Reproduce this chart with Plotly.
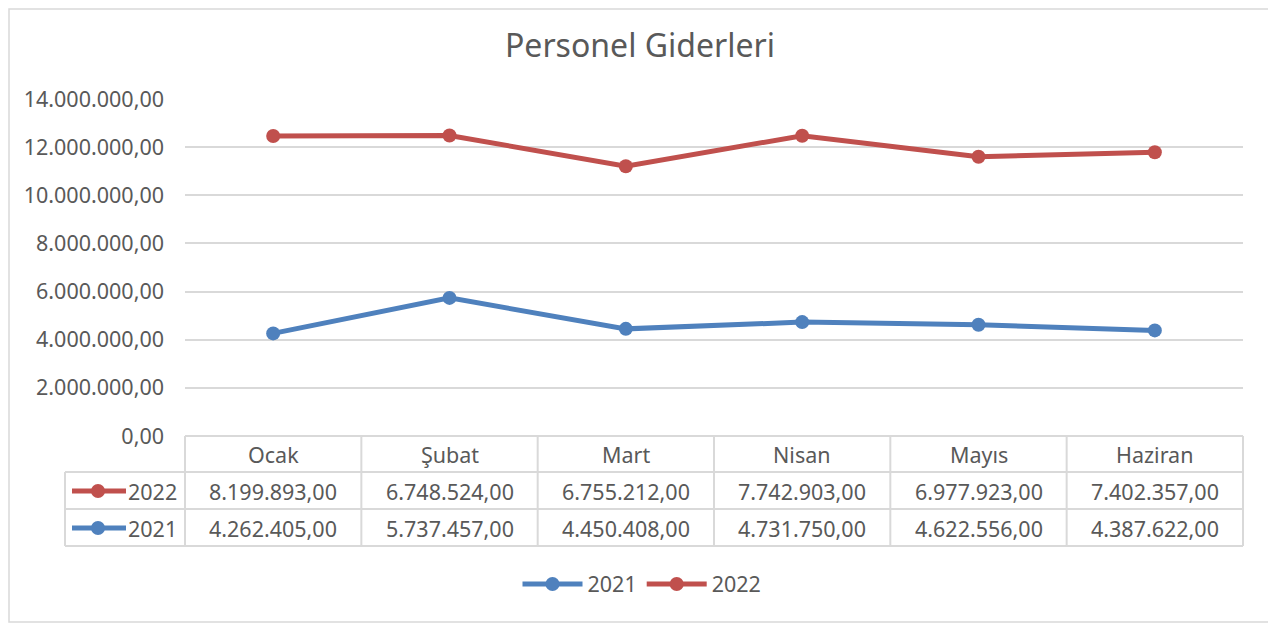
import plotly.graph_objects as go

months = ["Ocak", "Şubat", "Mart", "Nisan", "Mayıs", "Haziran"]
y2021 = [4262405, 5737457, 4450408, 4731750, 4622556, 4387622]
y2022 = [8199893, 6748524, 6755212, 7742903, 6977923, 7402357]
y_ticks = [0, 2000000, 4000000, 6000000, 8000000, 10000000, 12000000, 14000000]

blue = "#4F81BD"
red = "#C0504D"
grey = "#595959"
line_grey = "#D9D9D9"
font = "Noto Sans"
fs = 21.5

# the page puts the figure 8px in from the top-left corner
OFF = 8
W, H = 1276 - OFF, 625 - OFF
# plot area in page pixels
L, R, T, B = 185, 1243, 99, 436
pw, ph = R - L, B - T


def px(x):
    return (x - L) / pw


def py(y):
    return (B - y) / ph


def tr_fmt(v):
    s = "{:,.2f}".format(v)
    return s.replace(",", "X").replace(".", ",").replace("X", ".")


fig = go.Figure()
fig.add_trace(go.Scatter(x=months, y=y2021, name="2021", stackgroup="s", fill="none",
                         mode="lines+markers", line=dict(color=blue, width=5),
                         marker=dict(size=14, color=blue)))
fig.add_trace(go.Scatter(x=months, y=y2022, name="2022", stackgroup="s", fill="none",
                         mode="lines+markers", line=dict(color=red, width=5),
                         marker=dict(size=14, color=red)))

shapes = []
ann = []
# outer chart border
shapes.append(dict(type="rect", xref="paper", yref="paper", x0=px(OFF + 1), x1=px(1270),
                   y0=py(622), y1=py(OFF + 1), line=dict(color=line_grey, width=1.5)))

# data table grid
row_y = [436, 472, 509, 546]
col_x = [L + i * pw / 6 for i in range(7)]
shapes.append(dict(type="line", xref="paper", yref="paper", x0=px(L), x1=px(R),
                   y0=py(row_y[0]), y1=py(row_y[0]), line=dict(color=line_grey, width=2)))
for yy in row_y[1:]:
    shapes.append(dict(type="line", xref="paper", yref="paper", x0=px(65), x1=px(R),
                       y0=py(yy), y1=py(yy), line=dict(color=line_grey, width=2)))
for xx in col_x:
    shapes.append(dict(type="line", xref="paper", yref="paper", x0=px(xx), x1=px(xx),
                       y0=py(436), y1=py(546), line=dict(color=line_grey, width=2)))
shapes.append(dict(type="line", xref="paper", yref="paper", x0=px(65), x1=px(65),
                   y0=py(472), y1=py(546), line=dict(color=line_grey, width=2)))

cell_font = dict(size=fs, color=grey, family=font)
# header row and value rows
for i, m in enumerate(months):
    ann.append(dict(x=m, xref="x", y=py(454), yref="paper", text=m, showarrow=False,
                    xanchor="center", yanchor="middle", font=cell_font))
    ann.append(dict(x=m, xref="x", y=py(491), yref="paper", text=tr_fmt(y2022[i]),
                    showarrow=False, xanchor="center", yanchor="middle", font=cell_font))
    ann.append(dict(x=m, xref="x", y=py(528), yref="paper", text=tr_fmt(y2021[i]),
                    showarrow=False, xanchor="center", yanchor="middle", font=cell_font))

# series keys in the table
for name, col, yc in [("2022", red, 491), ("2021", blue, 528)]:
    shapes.append(dict(type="line", xref="paper", yref="paper", x0=px(72), x1=px(126),
                       y0=py(yc), y1=py(yc), line=dict(color=col, width=5)))
    shapes.append(dict(type="circle", xref="paper", yref="paper", x0=px(91), x1=px(105),
                       y0=py(yc + 7), y1=py(yc - 7), fillcolor=col, line=dict(color=col, width=0)))
    ann.append(dict(x=px(179), xref="paper", y=py(yc), yref="paper", text=name,
                    xanchor="right", yanchor="middle", showarrow=False, font=cell_font))

fig.update_layout(
    width=W, height=H,
    margin=dict(l=L - OFF, r=W - (R - OFF), t=T - OFF, b=H - (B - OFF)),
    paper_bgcolor="white", plot_bgcolor="white",
    separators=",.",
    title=dict(text="Personel Giderleri", x=(640 - OFF) / W, xanchor="center", xref="container",
               y=1 - (46 - OFF) / H, yanchor="middle", yref="container",
               font=dict(size=32, color=grey, family=font)),
    showlegend=True,
    legend=dict(orientation="h", x=px(642), xanchor="center",
                y=py(584), yanchor="middle", itemwidth=60,
                traceorder="normal", font=cell_font),
    shapes=shapes,
    annotations=ann,
)
fig.update_xaxes(range=[-0.5, 5.5], showticklabels=False, showgrid=False, zeroline=False,
                 showline=False, ticks="")
fig.update_yaxes(range=[0, 14000000], tickvals=y_ticks, tickformat=",.2f",
                 showgrid=True, gridcolor=line_grey, gridwidth=1.5, zeroline=False,
                 showline=False, ticks="", ticklabelstandoff=20,
                 tickfont=cell_font)

fig.write_html("out.html")
